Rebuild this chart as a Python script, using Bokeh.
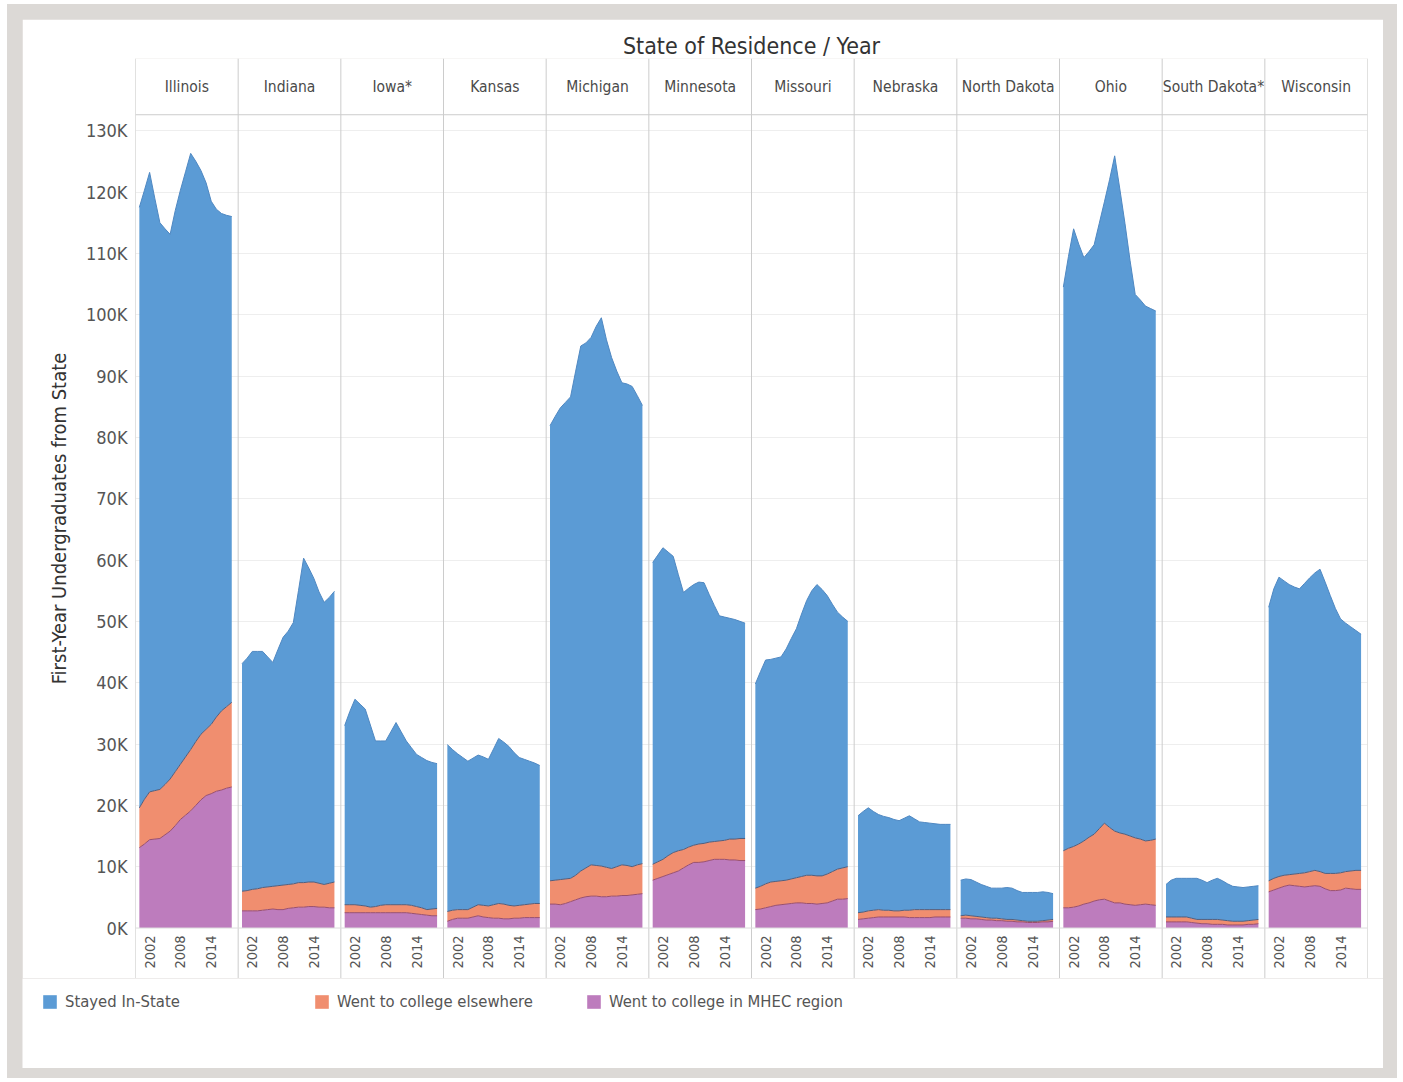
import numpy as np
from bokeh.plotting import figure
from bokeh.models import Range1d, FixedTicker, ColumnDataSource, Legend, LegendItem, Span
from bokeh.layouts import column
from bokeh.core.properties import value
from bokeh.embed import file_html
from bokeh.resources import INLINE

# ---------------- data (thousands of first-year undergraduates) ----------------
states = ["Illinois", "Indiana", "Iowa*", "Kansas", "Michigan", "Minnesota",
          "Missouri", "Nebraska", "North Dakota", "Ohio", "South Dakota*", "Wisconsin"]
years = list(range(2000, 2019))
year_ticks = [2002, 2008, 2014]
y_ticks_k = list(range(0, 140, 10))

# total students from the state (top of the stack)
total_k = [
    [117.5, 120.3, 123.2, 119.0, 115.0, 114.0, 113.1, 117.0, 120.3, 123.3, 126.3, 125.0, 123.5, 121.5, 118.5, 117.2, 116.5, 116.2, 116.0],
    [43.1, 44.0, 45.1, 45.1, 45.1, 44.2, 43.3, 45.4, 47.4, 48.4, 49.8, 55.0, 60.3, 58.7, 57.0, 54.8, 53.1, 53.9, 54.9],
    [33.0, 35.3, 37.3, 36.5, 35.7, 33.1, 30.5, 30.5, 30.5, 32.0, 33.5, 32.0, 30.5, 29.4, 28.3, 27.8, 27.3, 27.0, 26.8],
    [29.9, 29.1, 28.4, 27.8, 27.2, 27.7, 28.2, 27.9, 27.5, 29.2, 30.9, 30.3, 29.6, 28.6, 27.8, 27.5, 27.2, 26.9, 26.5],
    [81.9, 83.4, 84.8, 85.7, 86.6, 90.8, 94.9, 95.4, 96.3, 98.1, 99.5, 95.9, 93.0, 90.8, 88.9, 88.7, 88.3, 86.8, 85.2],
    [59.6, 60.8, 62.0, 61.3, 60.6, 57.6, 54.7, 55.4, 56.0, 56.4, 56.3, 54.4, 52.6, 50.9, 50.7, 50.5, 50.3, 50.0, 49.7],
    [39.8, 41.8, 43.7, 43.8, 44.0, 44.2, 45.5, 47.2, 48.8, 51.2, 53.4, 55.0, 56.0, 55.2, 54.2, 52.8, 51.5, 50.7, 50.0],
    [18.3, 19.0, 19.6, 19.0, 18.5, 18.2, 18.0, 17.7, 17.5, 17.9, 18.3, 17.8, 17.3, 17.2, 17.1, 17.0, 16.9, 16.9, 16.9],
    [7.8, 8.0, 7.9, 7.5, 7.1, 6.8, 6.5, 6.5, 6.5, 6.6, 6.5, 6.1, 5.8, 5.8, 5.8, 5.8, 5.9, 5.8, 5.6],
    [104.5, 109.5, 114.0, 111.5, 109.3, 110.3, 111.4, 114.9, 118.4, 122.0, 125.9, 120.5, 114.9, 108.8, 103.3, 102.4, 101.4, 101.0, 100.6],
    [7.1, 7.8, 8.1, 8.1, 8.1, 8.1, 8.1, 7.8, 7.4, 7.8, 8.1, 7.7, 7.2, 6.8, 6.7, 6.6, 6.7, 6.8, 6.9],
    [52.3, 55.3, 57.2, 56.6, 56.0, 55.6, 55.3, 56.2, 57.1, 57.9, 58.5, 56.4, 54.2, 52.1, 50.4, 49.7, 49.1, 48.5, 47.9],
]
# students who left the state (elsewhere + MHEC region)
left_k = [
    [19.6, 21.0, 22.2, 22.4, 22.6, 23.4, 24.3, 25.5, 26.7, 27.9, 29.1, 30.4, 31.6, 32.4, 33.2, 34.4, 35.4, 36.1, 36.8],
    [6.0, 6.1, 6.3, 6.4, 6.6, 6.7, 6.8, 6.9, 7.0, 7.1, 7.2, 7.4, 7.4, 7.5, 7.5, 7.3, 7.1, 7.3, 7.5],
    [3.8, 3.8, 3.8, 3.7, 3.6, 3.4, 3.5, 3.7, 3.8, 3.8, 3.8, 3.8, 3.8, 3.7, 3.5, 3.3, 3.0, 3.1, 3.2],
    [2.7, 2.9, 3.0, 3.0, 3.0, 3.4, 3.8, 3.7, 3.6, 3.8, 4.0, 3.9, 3.7, 3.6, 3.7, 3.8, 3.9, 4.0, 4.0],
    [7.7, 7.8, 7.9, 8.0, 8.1, 8.6, 9.3, 9.8, 10.3, 10.2, 10.1, 9.9, 9.7, 10.0, 10.3, 10.2, 10.0, 10.3, 10.5],
    [10.4, 10.8, 11.2, 11.8, 12.3, 12.6, 12.8, 13.2, 13.5, 13.7, 13.8, 14.0, 14.1, 14.2, 14.3, 14.5, 14.5, 14.6, 14.6],
    [6.5, 6.8, 7.2, 7.5, 7.6, 7.7, 7.8, 8.0, 8.2, 8.4, 8.6, 8.6, 8.5, 8.5, 8.8, 9.2, 9.6, 9.8, 10.0],
    [2.5, 2.6, 2.8, 2.9, 3.0, 2.9, 2.9, 2.8, 2.8, 2.9, 2.9, 3.0, 3.0, 3.0, 3.0, 3.0, 3.0, 3.0, 3.0],
    [2.0, 2.1, 2.0, 1.9, 1.8, 1.7, 1.6, 1.6, 1.5, 1.4, 1.4, 1.3, 1.2, 1.1, 1.1, 1.1, 1.2, 1.3, 1.4],
    [12.6, 13.0, 13.3, 13.7, 14.2, 14.8, 15.3, 16.2, 17.1, 16.4, 15.8, 15.5, 15.3, 15.0, 14.7, 14.5, 14.2, 14.3, 14.5],
    [1.8, 1.8, 1.8, 1.8, 1.8, 1.6, 1.4, 1.4, 1.4, 1.4, 1.4, 1.3, 1.2, 1.1, 1.1, 1.1, 1.2, 1.3, 1.4],
    [7.7, 8.1, 8.4, 8.6, 8.7, 8.8, 8.9, 9.0, 9.2, 9.4, 9.2, 8.9, 8.9, 8.9, 9.0, 9.2, 9.3, 9.4, 9.4],
]
# students who went to college in the MHEC region
mhec_k = [
    [13.1, 13.7, 14.4, 14.5, 14.6, 15.2, 15.8, 16.7, 17.7, 18.4, 19.1, 20.0, 20.9, 21.6, 21.9, 22.3, 22.5, 22.8, 23.0],
    [2.8, 2.8, 2.8, 2.8, 2.9, 3.0, 3.1, 3.0, 3.0, 3.2, 3.3, 3.4, 3.4, 3.5, 3.5, 3.4, 3.4, 3.3, 3.3],
    [2.5, 2.5, 2.5, 2.5, 2.5, 2.5, 2.5, 2.5, 2.5, 2.5, 2.5, 2.5, 2.5, 2.4, 2.3, 2.2, 2.1, 2.0, 2.0],
    [1.1, 1.4, 1.6, 1.6, 1.6, 1.8, 2.0, 1.8, 1.7, 1.6, 1.6, 1.5, 1.5, 1.6, 1.6, 1.7, 1.7, 1.7, 1.7],
    [3.9, 3.9, 3.8, 4.0, 4.3, 4.6, 4.9, 5.1, 5.2, 5.2, 5.1, 5.1, 5.2, 5.2, 5.3, 5.3, 5.4, 5.5, 5.6],
    [7.8, 8.1, 8.4, 8.7, 9.0, 9.3, 9.8, 10.3, 10.7, 10.7, 10.8, 11.0, 11.2, 11.2, 11.2, 11.1, 11.1, 11.0, 11.0],
    [3.0, 3.1, 3.3, 3.5, 3.7, 3.8, 3.9, 4.0, 4.1, 4.1, 4.0, 4.0, 3.9, 4.0, 4.1, 4.4, 4.7, 4.7, 4.8],
    [1.4, 1.5, 1.6, 1.7, 1.8, 1.8, 1.8, 1.8, 1.8, 1.8, 1.7, 1.7, 1.7, 1.7, 1.7, 1.8, 1.8, 1.8, 1.8],
    [1.6, 1.6, 1.5, 1.5, 1.4, 1.3, 1.3, 1.2, 1.2, 1.1, 1.1, 1.0, 1.0, 0.9, 0.9, 0.9, 1.0, 1.0, 1.1],
    [3.3, 3.3, 3.4, 3.6, 3.9, 4.1, 4.4, 4.6, 4.7, 4.4, 4.1, 4.1, 3.9, 3.8, 3.7, 3.8, 3.9, 3.8, 3.7],
    [1.0, 1.0, 1.0, 1.0, 1.0, 0.9, 0.8, 0.7, 0.7, 0.6, 0.6, 0.6, 0.5, 0.5, 0.5, 0.5, 0.6, 0.6, 0.7],
    [5.9, 6.2, 6.5, 6.8, 7.0, 6.9, 6.8, 6.7, 6.8, 6.9, 6.8, 6.4, 6.1, 6.1, 6.2, 6.5, 6.4, 6.3, 6.3],
]
series_labels = ["Stayed In-State", "Went to college elsewhere", "Went to college in MHEC region"]

# ---------------- styling ----------------
FONT = "DejaVu Sans Condensed, Noto Sans Condensed, Liberation Sans Narrow, Roboto Condensed, Roboto, sans-serif"
BLUE, ORANGE, PURPLE = "#5b9bd5", "#f08e6f", "#bd7cbd"
BLUE_EDGE, ORANGE_EDGE, PURPLE_EDGE = "#4f88c2", "#4f5e7e", "#9a4f6c"
SEP = "#cccccc"
TXT = "#555555"

PANEL = 20.0      # width of each state panel, in years
PAD = 0.75        # space before the first year inside a panel
n = len(states)

p = figure(width=1361, height=959,
           x_range=Range1d(0, PANEL * n), y_range=Range1d(-8230, 141770),
           output_backend="svg", toolbar_location=None, x_axis_location=None,
           min_border_left=113, min_border_right=16, min_border_top=39, min_border_bottom=0,
           outline_line_color=None, title="State of Residence / Year")
p.title.align = "center"
p.title.text_font = FONT
p.title.text_font_size = "23px"
p.title.text_font_style = "normal"
p.title.text_color = "#333333"
p.title.standoff = 0

ticks = [k * 1000 for k in y_ticks_k]
p.yaxis.ticker = FixedTicker(ticks=ticks)
p.yaxis.major_label_overrides = {t: f"{t // 1000}K" for t in ticks}
p.yaxis.axis_line_color = None
p.yaxis.major_tick_line_color = None
p.yaxis.minor_tick_line_color = None
p.yaxis.major_tick_out = 0
p.yaxis.major_label_standoff = 8
p.yaxis.major_label_text_font = FONT
p.yaxis.major_label_text_font_size = "18px"
p.yaxis.major_label_text_color = TXT
p.yaxis.axis_label = "First-Year Undergraduates from State"
p.yaxis.axis_label_text_font = FONT
p.yaxis.axis_label_text_font_size = "20px"
p.yaxis.axis_label_text_font_style = "normal"
p.yaxis.axis_label_text_color = "#333333"
p.yaxis.axis_label_standoff = 12

p.xgrid.visible = False
p.ygrid.ticker = FixedTicker(ticks=ticks[1:])
p.ygrid.grid_line_color = "#eeeeee"

for i, st in enumerate(states):
    x = [i * PANEL + PAD + (yr - years[0]) for yr in years]
    tot = np.array(total_k[i]) * 1000
    lft = np.array(left_k[i]) * 1000
    mh = np.array(mhec_k[i]) * 1000
    src = ColumnDataSource(dict(x=x, zero=np.zeros(len(x)), mhec=mh, left=lft, total=tot))
    p.varea(x="x", y1="left", y2="total", source=src, fill_color=BLUE)
    p.varea(x="x", y1="mhec", y2="left", source=src, fill_color=ORANGE)
    p.varea(x="x", y1="zero", y2="mhec", source=src, fill_color=PURPLE)
    p.line("x", "total", source=src, line_color=BLUE_EDGE, line_width=1)
    p.line("x", "left", source=src, line_color=ORANGE_EDGE, line_width=1)
    p.line("x", "mhec", source=src, line_color=PURPLE_EDGE, line_width=1)

# year labels inside each panel
yl_x, yl_t = [], []
for i in range(n):
    for yt in year_ticks:
        yl_x.append(i * PANEL + PAD + (yt - years[0]))
        yl_t.append(str(yt))
p.text(x=yl_x, y=[-3900] * len(yl_x), text=yl_t, angle=np.pi / 2,
       text_align="center", text_baseline="middle", text_font=value(FONT),
       text_font_size="14.5px", text_color=TXT)

# state header labels
p.text(x=[i * PANEL + PANEL / 2 for i in range(n)], y=[137200] * n, text=states,
       text_align="center", text_baseline="middle", text_font=value(FONT),
       text_font_size="15.5px", text_color="#4a4a4a")

# panel separators and header / baseline rules
for i in range(n + 1):
    p.add_layout(Span(location=i * PANEL, dimension="height", line_color=SEP, line_width=1))
p.add_layout(Span(location=132600, dimension="width", line_color=SEP, line_width=1))
p.add_layout(Span(location=0, dimension="width", line_color="#dddddd", line_width=1))

# ---------------- legend strip below the panels ----------------
lf = figure(width=1361, height=90, x_range=Range1d(0, 1), y_range=Range1d(0, 1),
            output_backend="svg", toolbar_location=None,
            x_axis_location=None, y_axis_location=None,
            min_border=0, outline_line_color=None,
            background_fill_color="white", border_fill_color="white")
try:
    lf.frame_align = False
    p.frame_align = False
except Exception:
    pass
lf.xgrid.visible = False
lf.ygrid.visible = False
# swatch renderers: their data sit outside the visible range, only the legend shows them
swatches = [lf.varea(x=[5, 6], y1=[5, 5], y2=[6, 6], fill_color=c) for c in (BLUE, ORANGE, PURPLE)]
legend = Legend(items=[LegendItem(label=lab, renderers=[r]) for lab, r in zip(series_labels, swatches)],
                orientation="horizontal", location=(19, 57),
                glyph_width=17, glyph_height=17, label_standoff=7, label_width=248,
                spacing=0, padding=0, margin=0, border_line_color=None,
                background_fill_alpha=0, label_text_font=FONT, label_text_font_size="16.5px",
                label_text_color=TXT)
lf.add_layout(legend, "center")

layout = column(p, lf, spacing=0,
                styles={"background-color": "#dcd9d6", "padding": "15px 14px 10px 15px",
                        "margin": "4px 0px 0px 7px"})
open("out.html", "w").write(file_html(layout, INLINE))
